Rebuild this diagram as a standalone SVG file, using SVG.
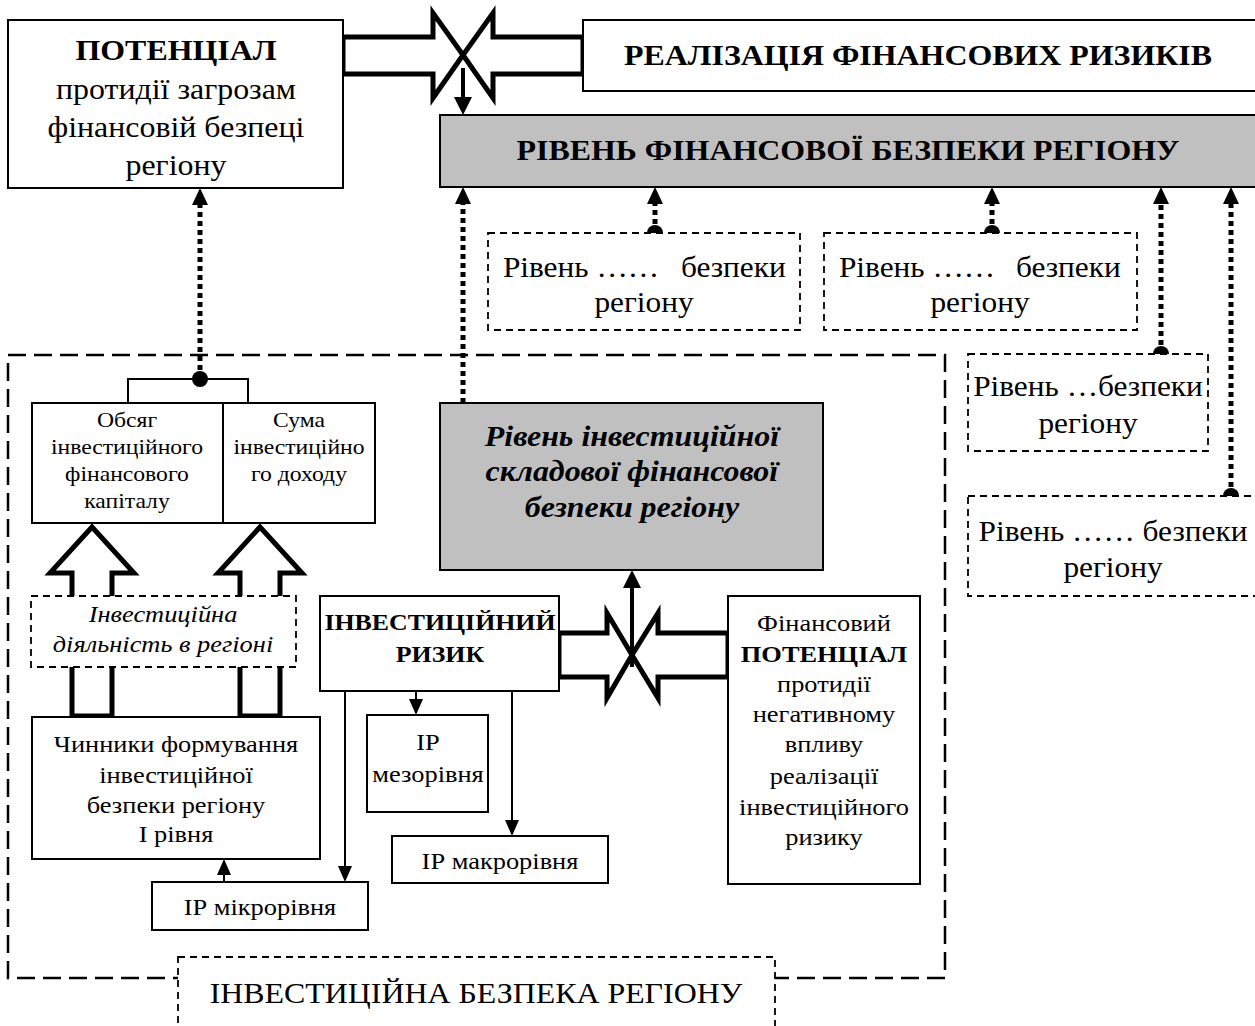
<svg xmlns="http://www.w3.org/2000/svg" width="1255" height="1026" viewBox="0 0 1255 1026">
<style>
text{font-family:"Liberation Serif","Times New Roman",serif;fill:#000;text-anchor:middle;transform-box:fill-box;transform-origin:center;transform:scaleX(1.1)}
.box{fill:#fff;stroke:#000;stroke-width:2}
.gray{fill:#c0c0c0;stroke:#000;stroke-width:2}
.dbox{fill:#fff;stroke:#000;stroke-width:1.8;stroke-dasharray:7 5}
.region{fill:none;stroke:#000;stroke-width:2.5;stroke-dasharray:18 8}
.dotl{fill:none;stroke:#000;stroke-width:5;stroke-dasharray:5 4}
.thin{fill:none;stroke:#000;stroke-width:2}
.thick{fill:none;stroke:#000;stroke-width:4}
.block{fill:none;stroke:#000;stroke-width:5;stroke-linejoin:miter;stroke-miterlimit:10}
.b{font-weight:bold}
.i{font-style:italic}
.s{text-anchor:start}
.e{text-anchor:end}
</style>
<defs>
<marker id="ah" markerUnits="userSpaceOnUse" markerWidth="16" markerHeight="14" refX="0" refY="7" orient="auto" viewBox="0 0 16 14"><path d="M0,0 L16,7 L0,14 Z" fill="#000"/></marker>
<marker id="ahd" markerUnits="userSpaceOnUse" markerWidth="17" markerHeight="16" refX="0" refY="8" orient="auto" viewBox="0 0 17 16"><path d="M0,0 L17,8 L0,16 Z" fill="#000"/></marker>
<marker id="ahb" markerUnits="userSpaceOnUse" markerWidth="18" markerHeight="18" refX="0" refY="9" orient="auto" viewBox="0 0 18 18"><path d="M0,0 L18,9 L0,18 Z" fill="#000"/></marker>
</defs>

<g id="region">
<rect class="region" x="8" y="355" width="937" height="623"/>
</g>

<g id="connectors">
<line class="dotl" x1="200" y1="379" x2="200" y2="205" marker-end="url(#ahd)"/>
<line class="dotl" x1="463" y1="403" x2="463" y2="204" marker-end="url(#ahd)"/>
<line class="dotl" x1="655" y1="233" x2="655" y2="204" marker-end="url(#ahd)"/>
<line class="dotl" x1="992" y1="233" x2="992" y2="204" marker-end="url(#ahd)"/>
<line class="dotl" x1="1161" y1="354" x2="1161" y2="204" marker-end="url(#ahd)"/>
<line class="dotl" x1="1231" y1="496" x2="1231" y2="204" marker-end="url(#ahd)"/>
<circle cx="200" cy="379" r="8" fill="#000"/>
<path d="M128,403 V379 H248 V403" class="thin"/>
<polygon class="block" points="343,37 433,37 433,13 463,55 433,98 433,74 343,74"/>
<polygon class="block" points="583,37 493,37 493,13 463,55 493,98 493,74 583,74"/>
<line class="thick" x1="463" y1="68" x2="463" y2="97" marker-end="url(#ahb)"/>
<polygon class="block" points="72,716 72,573 50,573 92,527 134,573 112,573 112,716"/>
<polygon class="block" points="240,716 240,573 218,573 260,527 302,573 280,573 280,716"/>
<polygon class="block" points="559,633 607,633 607,613 632,655 607,698 607,677 559,677"/>
<polygon class="block" points="728,633 658,633 658,613 632,655 658,698 658,677 728,677"/>
<line class="thick" x1="632" y1="667" x2="632" y2="588" marker-end="url(#ahb)"/>
<line class="thin" x1="345" y1="691" x2="345" y2="866" marker-end="url(#ah)"/>
<line class="thin" x1="416" y1="691" x2="416" y2="699" marker-end="url(#ah)"/>
<line class="thin" x1="512" y1="691" x2="512" y2="820" marker-end="url(#ah)"/>
<line class="thin" x1="224" y1="882" x2="224" y2="875" marker-end="url(#ah)"/>
</g>

<g id="potential-top">
<rect class="box" x="8" y="20" width="335" height="168"/>
<text x="176" y="60" font-size="29" class="b">ПОТЕНЦІАЛ</text>
<text x="176" y="99" font-size="29">протидії загрозам</text>
<text x="176" y="137" font-size="29">фінансовій безпеці</text>
<text x="176" y="175" font-size="29">регіону</text>
</g>

<g id="realization">
<rect class="box" x="583" y="20" width="680" height="71"/>
<text x="918" y="65" font-size="29" class="b">РЕАЛІЗАЦІЯ ФІНАНСОВИХ РИЗИКІВ</text>
</g>

<g id="level-fin">
<rect class="gray" x="440" y="115" width="825" height="72"/>
<text x="848" y="160" font-size="29" class="b">РІВЕНЬ ФІНАНСОВОЇ БЕЗПЕКИ РЕГІОНУ</text>
</g>

<g id="level1">
<rect class="dbox" x="488" y="233" width="312" height="97"/>
<path d="M647,233 A8,8 0 0 1 663,233 Z" fill="#000"/>
<text x="510" y="277" font-size="28.5" class="s">Рівень ……</text>
<text x="781" y="277" font-size="28.5" class="e">безпеки</text>
<text x="644" y="312" font-size="28.5">регіону</text>
</g>

<g id="level2">
<rect class="dbox" x="824" y="233" width="313" height="97"/>
<path d="M984,233 A8,8 0 0 1 1000,233 Z" fill="#000"/>
<text x="846" y="277" font-size="28.5" class="s">Рівень ……</text>
<text x="1116" y="277" font-size="28.5" class="e">безпеки</text>
<text x="980" y="312" font-size="28.5">регіону</text>
</g>

<g id="level3">
<rect class="dbox" x="968" y="354" width="240" height="97"/>
<path d="M1153,354 A8,8 0 0 1 1169,354 Z" fill="#000"/>
<text x="1088" y="396" font-size="28.5">Рівень …безпеки</text>
<text x="1088" y="433" font-size="28.5">регіону</text>
</g>

<g id="level4">
<rect class="dbox" x="968" y="496" width="300" height="100"/>
<path d="M1223,496 A8,8 0 0 1 1239,496 Z" fill="#000"/>
<text x="1113" y="541" font-size="28.5">Рівень …… безпеки</text>
<text x="1113" y="577" font-size="28.5">регіону</text>
</g>

<g id="obsyah">
<rect class="box" x="32" y="403" width="191" height="120"/>
<text x="127" y="427" font-size="21.5">Обсяг</text>
<text x="127" y="454" font-size="21.5">інвестиційного</text>
<text x="127" y="481" font-size="21.5">фінансового</text>
<text x="127" y="508" font-size="21.5">капіталу</text>
</g>

<g id="suma">
<rect class="box" x="223" y="403" width="152" height="120"/>
<text x="299" y="427" font-size="21.5">Сума</text>
<text x="299" y="454" font-size="21.5">інвестиційно</text>
<text x="299" y="481" font-size="21.5">го доходу</text>
</g>

<g id="level-invest">
<rect class="gray" x="440" y="403" width="383" height="167"/>
<text x="632" y="446" font-size="29" class="b i">Рівень інвестиційної</text>
<text x="632" y="481" font-size="29" class="b i">складової фінансової</text>
<text x="632" y="517" font-size="29" class="b i">безпеки регіону</text>
</g>

<g id="activity">
<rect class="dbox" x="31" y="596" width="265" height="71"/>
<text x="163" y="622" font-size="24" class="i">Інвестиційна</text>
<text x="163" y="652" font-size="24" class="i">діяльність в регіоні</text>
</g>

<g id="risk">
<rect class="box" x="320" y="596" width="239" height="95"/>
<text x="440" y="630" font-size="23.5" class="b">ІНВЕСТИЦІЙНИЙ</text>
<text x="440" y="662" font-size="23.5" class="b">РИЗИК</text>
</g>

<g id="fin-potential">
<rect class="box" x="728" y="596" width="192" height="288"/>
<text x="824" y="631" font-size="24">Фінансовий</text>
<text x="824" y="662" font-size="24" class="b">ПОТЕНЦІАЛ</text>
<text x="824" y="692" font-size="24">протидії</text>
<text x="824" y="722" font-size="24">негативному</text>
<text x="824" y="752" font-size="24">впливу</text>
<text x="824" y="784" font-size="24">реалізації</text>
<text x="824" y="815" font-size="24">інвестиційного</text>
<text x="824" y="845" font-size="24">ризику</text>
</g>

<g id="factors">
<rect class="box" x="32" y="717" width="288" height="142"/>
<text x="176" y="752" font-size="24">Чинники формування</text>
<text x="176" y="783" font-size="24">інвестиційної</text>
<text x="176" y="813" font-size="24">безпеки регіону</text>
<text x="176" y="842" font-size="24">І рівня</text>
</g>

<g id="meso">
<rect class="box" x="367" y="715" width="121" height="97"/>
<text x="428" y="750" font-size="24">ІР</text>
<text x="428" y="782" font-size="24">мезорівня</text>
</g>

<g id="macro">
<rect class="box" x="392" y="836" width="216" height="47"/>
<text x="500" y="869" font-size="24">ІР макрорівня</text>
</g>

<g id="micro">
<rect class="box" x="152" y="882" width="216" height="48"/>
<text x="260" y="915" font-size="24">ІР мікрорівня</text>
</g>

<g id="label">
<rect class="dbox" x="178" y="957" width="597" height="90"/>
<text x="476" y="1003" font-size="29">ІНВЕСТИЦІЙНА БЕЗПЕКА РЕГІОНУ</text>
</g>
</svg>
